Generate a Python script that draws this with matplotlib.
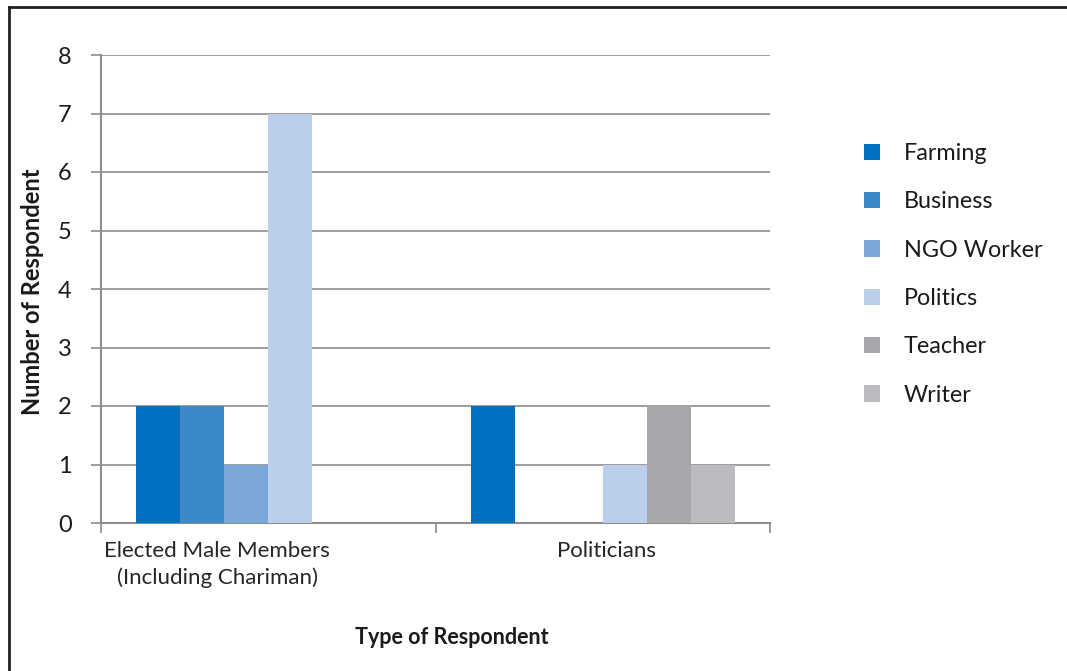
import matplotlib
matplotlib.use("Agg")
import matplotlib.pyplot as plt
from matplotlib.patches import Patch
from matplotlib.lines import Line2D
import numpy as np

plt.rcParams['font.family'] = ['Lato', 'DejaVu Sans']

categories = ["Elected Male Members\n(Including Chariman)", "Politicians"]
occupations = ["Farming", "Business", "NGO Worker", "Politics", "Teacher", "Writer"]
counts = {
    "Farming":    [2, 2],
    "Business":   [2, 0],
    "NGO Worker": [1, 0],
    "Politics":   [7, 1],
    "Teacher":    [0, 2],
    "Writer":     [0, 1],
}
colors = ["#0070C0", "#3B89C9", "#7BA7D7", "#BBCEEB", "#A6A7AB", "#BBBCC0"]
y_ticks = list(range(0, 9))

W, H = 1067, 671
fig = plt.figure(figsize=(W / 100, H / 100), dpi=100)
ax = fig.add_axes([101 / W, 1 - 523 / H, (770 - 101) / W, (523 - 55) / H])

x = np.arange(len(categories))
bw = 0.1315
n = len(occupations)
for i, (occ, col) in enumerate(zip(occupations, colors)):
    offs = (i - (n - 1) / 2) * bw
    ax.bar(x + offs, counts[occ], width=bw, color=col, zorder=3, linewidth=0)

ax.set_xlim(-0.5, len(categories) - 0.5)
ax.set_ylim(0, 8)
ax.set_yticks(y_ticks)
ax.yaxis.grid(True, color="#8C8C8C", linewidth=1.2, zorder=0)
ax.tick_params(axis='y', length=7, width=1.2, color="#8C8C8C", labelsize=17,
               labelcolor="#1A1A1A", pad=14)

# category boundaries carry the x tick marks
ax.set_xticks(np.arange(-0.5, len(categories), 1.0))
ax.set_xticklabels([])
ax.tick_params(axis='x', length=7, width=1.2, color="#8C8C8C")

for s in ["top", "right"]:
    ax.spines[s].set_visible(False)
for s in ["left", "bottom"]:
    ax.spines[s].set_color("#8C8C8C")
    ax.spines[s].set_linewidth(1.5)

# category names under each group
label_x = [x[0] - 0.152, x[1] + 0.01]
for lx, cat in zip(label_x, categories):
    ax.text(lx, -0.3, cat, ha='center', va='top', fontsize=16,
            color="#262626", linespacing=1.4)

fig.text(452 / W, 1 - 637 / H, "Type of Respondent", ha='center', va='center',
         fontsize=15.5, fontweight='bold', color="#1A1A1A")
fig.text(33 / W, 1 - 292 / H, "Number of Respondent", ha='center', va='center',
         rotation=90, fontsize=17, fontweight='bold', color="#1A1A1A")

handles = [Patch(facecolor=c, edgecolor='none') for c in colors]
fig.legend(handles, occupations, loc='upper left',
           bbox_to_anchor=(843 / W, 1 - 122 / H), frameon=False,
           fontsize=16.8, handlelength=0.7, handleheight=0.7,
           handletextpad=1.0, labelspacing=1.17, labelcolor="#1A1A1A")

# frame lines along the top and left edges
fig.add_artist(Line2D([8.5 / W, 8.5 / W], [0, 1 - 6.5 / H], transform=fig.transFigure,
                      color="#231F20", linewidth=2))
fig.add_artist(Line2D([8.5 / W, 1], [1 - 6.5 / H, 1 - 6.5 / H], transform=fig.transFigure,
                      color="#231F20", linewidth=2))

fig.savefig("out.png", dpi=100)
